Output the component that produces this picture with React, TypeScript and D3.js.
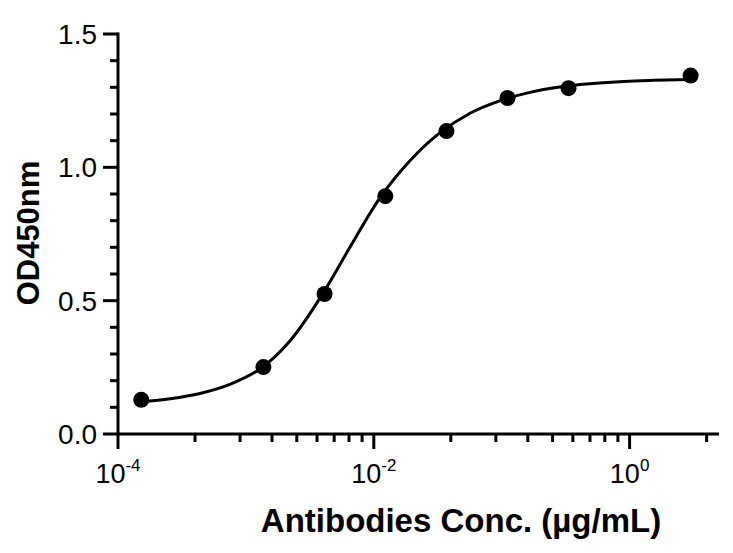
import React from "react";
import * as d3 from "d3";

// Measured data points (concentration µg/mL, OD450)
const concentrations = [0.000152, 0.00137, 0.00412, 0.0123, 0.037, 0.111, 0.333, 3];
const odValues = [0.128, 0.251, 0.525, 0.892, 1.136, 1.26, 1.297, 1.344];

// Fitted curve
const curveX = [0.000152, 0.000255, 0.000437, 0.00075, 0.00129, 0.00221, 0.00379, 0.00649, 0.0111, 0.0191, 0.0328, 0.0562, 0.0964, 0.166, 0.284, 0.487, 0.835, 1.43, 3];
const curveY = [0.12, 0.132, 0.152, 0.186, 0.244, 0.349, 0.509, 0.699, 0.884, 1.024, 1.129, 1.202, 1.249, 1.281, 1.301, 1.313, 1.321, 1.326, 1.329];

const yMajorTicks = [0, 0.5, 1.0, 1.5];
const yTickLabels = ["0.0", "0.5", "1.0", "1.5"];
const yMinorTicks = [0.1, 0.2, 0.3, 0.4, 0.6, 0.7, 0.8, 0.9, 1.1, 1.2, 1.3, 1.4];
const xMajorTicks = [1e-4, 1e-2, 1];
const xTickExponents = ["-4", "-2", "0"];
const xMinorMultipliers = [4, 9, 16, 25, 36, 49, 64, 81];

const xTitle = "Antibodies Conc. (µg/mL)";
const yTitle = "OD450nm";

export default function App() {
  const W = 733, H = 553;
  const x = d3.scaleLog().domain([1e-4, 5]).range([118, 719]);
  const y = d3.scaleLinear().domain([0, 1.5]).range([434, 34]);

  const xMinor: number[] = [];
  for (const base of xMajorTicks) {
    for (const m of xMinorMultipliers) {
      const v = base * m;
      if (v <= 5 && !xMajorTicks.includes(v)) xMinor.push(v);
    }
  }

  const line = d3
    .line<number>()
    .x((_, i) => x(curveX[i]))
    .y((d) => y(d))
    .curve(d3.curveCatmullRom.alpha(0.5));

  const font = "'Liberation Sans', Arial, Helvetica, sans-serif";
  const axisW = 3;
  const x0 = x(1e-4);
  const y0 = y(0);

  return (
    <svg
      width={W}
      height={H}
      viewBox={`0 0 ${W} ${H}`}
      style={{ position: "absolute", left: 0, top: 0, background: "#fff" }}
    >
      <rect x={0} y={0} width={W} height={H} fill="#fff" />
      {/* Y axis */}
      <line x1={x0} x2={x0} y1={y(1.5) - 1.5} y2={y0} stroke="#000" strokeWidth={axisW} />
      {yMajorTicks.map((t, i) => (
        <g key={"ym" + i}>
          <line x1={x0 - 15} x2={x0} y1={y(t)} y2={y(t)} stroke="#000" strokeWidth={axisW} />
          <text
            x={x0 - 21}
            y={y(t)}
            dy="0.36em"
            textAnchor="end"
            fontFamily={font}
            fontSize={28}
            fill="#000"
          >
            {yTickLabels[i]}
          </text>
        </g>
      ))}
      {yMinorTicks.map((t, i) => (
        <line key={"yn" + i} x1={x0 - 8} x2={x0} y1={y(t)} y2={y(t)} stroke="#000" strokeWidth={axisW} />
      ))}
      {/* X axis */}
      <line x1={x0} x2={x(5)} y1={y0} y2={y0} stroke="#000" strokeWidth={axisW} />
      {xMajorTicks.map((t, i) => (
        <g key={"xm" + i}>
          <line x1={x(t)} x2={x(t)} y1={y0} y2={y0 + 15} stroke="#000" strokeWidth={axisW} />
          <text
            x={x(t)}
            y={483}
            textAnchor="middle"
            fontFamily={font}
            fontSize={27}
            fill="#000"
          >
            10
            <tspan fontSize={17} dy={-12}>
              {xTickExponents[i]}
            </tspan>
          </text>
        </g>
      ))}
      {xMinor.map((t, i) => (
        <line key={"xn" + i} x1={x(t)} x2={x(t)} y1={y0} y2={y0 + 8} stroke="#000" strokeWidth={axisW} />
      ))}
      {/* Curve */}
      <path d={line(curveY) || ""} fill="none" stroke="#000" strokeWidth={3} />
      {/* Points */}
      {concentrations.map((c, i) => (
        <circle key={"p" + i} cx={x(c)} cy={y(odValues[i])} r={8} fill="#000" />
      ))}
      {/* Titles */}
      <text
        x={461}
        y={532}
        textAnchor="middle"
        fontFamily={font}
        fontWeight="bold"
        fontSize={33}
        fill="#000"
      >
        {xTitle}
      </text>
      <text
        transform={`translate(39, 233) rotate(-90)`}
        textAnchor="middle"
        fontFamily={font}
        fontWeight="bold"
        fontSize={31}
        fill="#000"
      >
        {yTitle}
      </text>
    </svg>
  );
}
